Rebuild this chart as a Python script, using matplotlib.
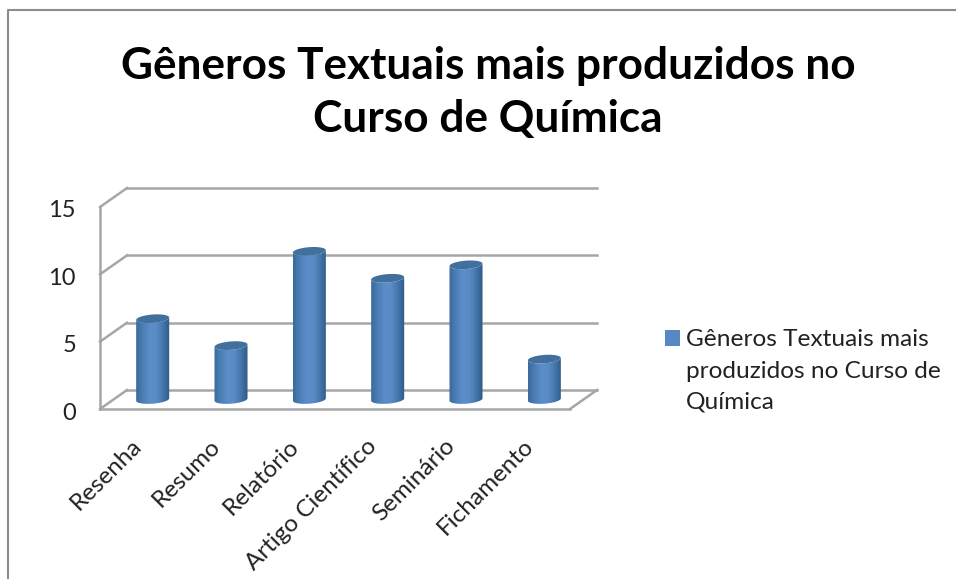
import numpy as np
import matplotlib
matplotlib.use("Agg")
import matplotlib.pyplot as plt
from matplotlib.colors import LinearSegmentedColormap
from matplotlib.lines import Line2D
from matplotlib.patches import Patch, PathPatch, Polygon
from matplotlib.path import Path
from matplotlib.transforms import ScaledTranslation

plt.rcParams["font.family"] = ["Lato", "DejaVu Sans"]

categories = ["Resenha", "Resumo", "Relatório", "Artigo Científico", "Seminário", "Fichamento"]
values = [6, 4, 11, 9, 10, 3]
y_ticks = [0, 5, 10, 15]
title = "Gêneros Textuais mais produzidos no\nCurso de Química"
legend_lines = ["Gêneros Textuais mais", "produzidos no Curso de", "Química"]

W, H = 956, 579
GRID = "#A6A6A6"
DEPTH_X = 27 / 78.3   # floor depth in category units
DEPTH_Y = 19 / 13.47  # floor depth in value units
HALF_W = 16.5 / 78.3
ELL_H = 4.2 / 13.47
TILT = 1.2 / 13.47

cyl_cmap = LinearSegmentedColormap.from_list(
    "cyl", ["#3B6A9B", "#4C7FB6", "#5B8DC9", "#5A8BC6", "#4577AC", "#2D5A86"])


def ellipse_xy(cx, cy, start, stop, n=40):
    t = np.linspace(start, stop, n)
    return cx + HALF_W * np.cos(t), cy + ELL_H * np.sin(t) + TILT * np.cos(t)


def draw_cylinder(ax, cx, base, top):
    # side = bottom half of the base ellipse + bottom half of the top one
    bx, by = ellipse_xy(cx, base, np.pi, 2 * np.pi)
    tx, ty = ellipse_xy(cx, top, 0, -np.pi)
    verts = np.column_stack([np.r_[bx, tx], np.r_[by, ty]])
    side = PathPatch(Path(np.vstack([verts, verts[:1]])), fc="none", ec="none")
    ax.add_patch(side)
    grad = np.linspace(0, 1, 64).reshape(1, -1)
    img = ax.imshow(grad, cmap=cyl_cmap, aspect="auto", zorder=3,
                    extent=[cx - HALF_W, cx + HALF_W, base - 1, top + 1])
    img.set_clip_path(side)
    img.set_clip_on(True)
    ex, ey = ellipse_xy(cx, top, 0, 2 * np.pi)
    ax.add_patch(Polygon(np.column_stack([ex, ey]), closed=True, fc="#41709F",
                         ec="none", zorder=4, clip_on=False))


fig = plt.figure(figsize=(W / 100, H / 100), dpi=100)
ax = fig.add_axes([100 / W, (H - 409) / H, 470 / W, 202 / H])
x = np.arange(len(categories)) + 0.5

# back wall and depth lines
for v in y_ticks:
    ax.plot([DEPTH_X, len(categories) + DEPTH_X], [v + DEPTH_Y, v + DEPTH_Y],
            color=GRID, lw=1.8, clip_on=False, zorder=1)
    ax.plot([0, DEPTH_X], [v, v + DEPTH_Y], color=GRID, lw=1.8, clip_on=False, zorder=1)
ax.plot([len(categories), len(categories) + DEPTH_X], [0, DEPTH_Y],
        color=GRID, lw=1.8, clip_on=False, zorder=1)

for cx, v in zip(x, values):
    draw_cylinder(ax, cx + DEPTH_X / 2, DEPTH_Y / 2, v + DEPTH_Y / 2)

ax.set_xlim(0, len(categories))
ax.set_ylim(0, 15)
ax.set_xticks(x)
ax.set_xticklabels(categories, rotation=45, ha="right", rotation_mode="anchor",
                   fontsize=17.5, color="#222222")
ax.set_yticks(y_ticks)
ax.set_yticklabels(y_ticks, fontsize=17, color="#222222")
ax.tick_params(axis="both", length=0)
ax.tick_params(axis="y", pad=24 * 0.72)
ax.tick_params(axis="x", pad=19)
# nudge labels, in inches at dpi 100
for lab in ax.get_xticklabels():
    lab.set_transform(lab.get_transform() + ScaledTranslation(-0.08, 0, fig.dpi_scale_trans))
for lab in ax.get_yticklabels():
    lab.set_transform(lab.get_transform() + ScaledTranslation(0, -0.02, fig.dpi_scale_trans))
for s in ["top", "right"]:
    ax.spines[s].set_visible(False)
for s in ["left", "bottom"]:
    ax.spines[s].set_color(GRID)
    ax.spines[s].set_linewidth(1.8)

fig.text(488 / W, 1 - 92.5 / H, title, ha="center", va="center", fontsize=31.8,
         fontweight="bold", color="black", linespacing=1.42)

# one row per line so the swatch sits next to the first line only
handles = [Patch(facecolor="#5588C4", edgecolor="none", label=legend_lines[0])]
handles += [Patch(facecolor="none", edgecolor="none", label=t) for t in legend_lines[1:]]
fig.legend(handles=handles, loc="center left", bbox_to_anchor=(665 / W, 1 - 371 / H),
           frameon=False, fontsize=17.6, labelcolor="#222222", handlelength=0.62,
           handleheight=0.62, handletextpad=0.22, borderpad=0, borderaxespad=0,
           labelspacing=0.42)

# chart frame, cut off by the crop on the other sides
fig.add_artist(Line2D([8 / W, 8 / W, 1], [0, 1 - 10 / H, 1 - 10 / H],
                      color="#8C8C8C", lw=1.5, transform=fig.transFigure))

fig.savefig("out.png", dpi=100)
